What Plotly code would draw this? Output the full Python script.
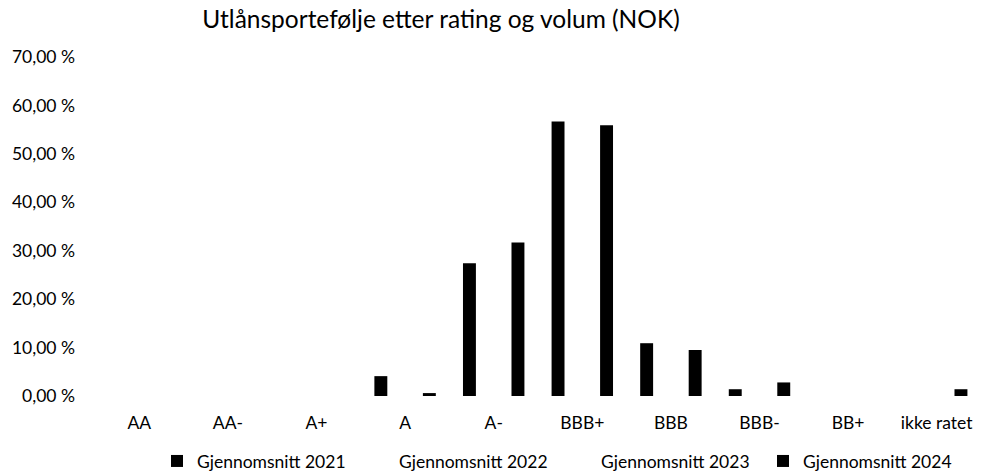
import plotly.graph_objects as go

categories = ["AA", "AA-", "A+", "A", "A-", "BBB+", "BBB", "BBB-", "BB+", "ikke ratet"]
snitt_2021 = [0.0, 0.0, 0.0, 0.041, 0.274, 0.567, 0.109, 0.014, 0.0, 0.0]
snitt_2022 = [0.0, 0.0, 0.0, 0.0, 0.0, 0.0, 0.0, 0.0, 0.0, 0.0]
snitt_2023 = [0.0, 0.0, 0.0, 0.0, 0.0, 0.0, 0.0, 0.0, 0.0, 0.0]
snitt_2024 = [0.0, 0.0, 0.0, 0.006, 0.317, 0.559, 0.095, 0.028, 0.0, 0.014]
series_names = ["Gjennomsnitt 2021", "Gjennomsnitt 2022", "Gjennomsnitt 2023", "Gjennomsnitt 2024"]
tick_vals = [0, 0.1, 0.2, 0.3, 0.4, 0.5, 0.6, 0.7]
tick_text = ["0,00 %", "10,00 %", "20,00 %", "30,00 %", "40,00 %", "50,00 %", "60,00 %", "70,00 %"]

FONT = "Lato, Open Sans, sans-serif"

fig = go.Figure()
for name, vals, col in zip(series_names, [snitt_2021, snitt_2022, snitt_2023, snitt_2024],
                           ["#000000", "#ffffff", "#ffffff", "#000000"]):
    fig.add_trace(go.Bar(name=name, x=categories, y=vals, marker=dict(color=col, line=dict(width=0))))

fig.update_layout(
    width=981, height=474,
    barmode="group", bargap=0.27, bargroupgap=0.2,
    paper_bgcolor="white", plot_bgcolor="white",
    margin=dict(l=95, r=0, t=57, b=78, autoexpand=False),
    font=dict(family=FONT, size=17, color="#000000"),
    title=dict(text="Utlånsportefølje etter rating og volum (NOK)", x=441 / 981, xanchor="center",
               y=0.958, yanchor="middle", font=dict(size=24.5, color="#000000")),
    xaxis=dict(showgrid=False, showline=False, zeroline=False, ticks="", automargin=False,
               tickfont=dict(size=17.5), ticklabelstandoff=14, fixedrange=True),
    yaxis=dict(range=[0, 0.7], tickvals=tick_vals, ticktext=tick_text, showgrid=False,
               zeroline=False, showline=False, ticks="", ticklabelstandoff=19, automargin=False,
               tickfont=dict(size=17.5)),
    legend=dict(orientation="h", x=(157 - 95) / 886, xanchor="left", y=-0.192, yanchor="middle",
                font=dict(size=17.5), itemwidth=30, traceorder="normal",
                entrywidth=157, entrywidthmode="pixels"),
    showlegend=True,
)

fig.write_html("out.html", config={"displayModeBar": False},
               post_script="document.body.style.margin='0';document.body.style.overflow='hidden';")
